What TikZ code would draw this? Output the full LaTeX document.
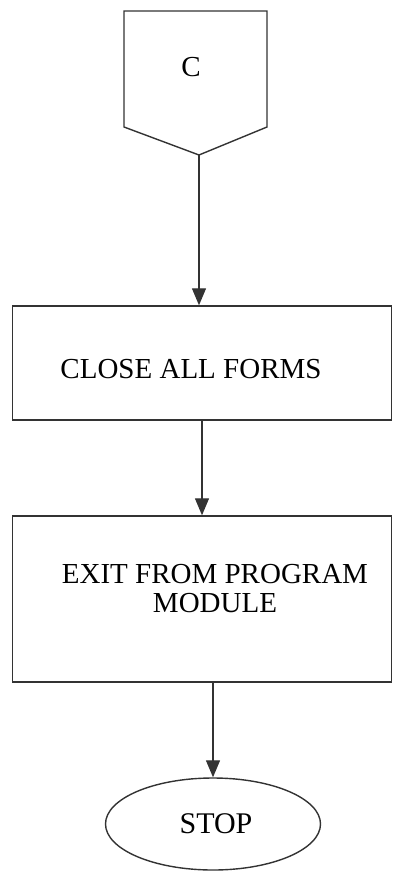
\documentclass[tikz,border=0pt]{standalone}
\usepackage{fontspec}
\setmainfont{Liberation Serif}
\usetikzlibrary{arrows.meta,positioning,shapes.geometric}

\begin{document}
\begin{tikzpicture}[x=1pt,y=-1pt,line width=1.4pt,draw=black!80,
  >={Triangle[length=17pt,width=14pt]},
  flow/.style={->,draw=black!80,line width=1.3pt},
  procbox/.style={draw,rectangle,minimum width=379pt,font=\fontsize{29}{29}\selectfont,align=center},
  term/.style={draw,ellipse,minimum width=215pt,minimum height=92pt,font=\fontsize{30}{33}\selectfont}]
  \useasboundingbox (0,0) rectangle (393,877);

  % off-page connector
  \node[font=\fontsize{29}{33}\selectfont] (conn) at (191,67) {C};
  \coordinate (cpt) at (199,155);
  \draw (124,11) -- (267,11) -- (267,127) -- (cpt) -- (124,127) -- cycle;

  \node[procbox,minimum height=114pt,text height=32pt] (close) at (202,363) {CLOSE ALL FORMS\hspace*{22pt}};
  \node[procbox,minimum height=166pt,text depth=22pt] (exit) at (202,599) {\hspace*{26pt}EXIT FROM PROGRAM\\ \hspace*{26pt}MODULE};
  \node[term] (stop) at (213,824) {\hspace*{6pt}STOP};

  \draw[flow] (cpt) -- (cpt |- close.north);
  \draw[flow] (close) -- (exit);
  \draw[flow] (exit.south -| stop.north) -- (stop);
\end{tikzpicture}
\end{document}
